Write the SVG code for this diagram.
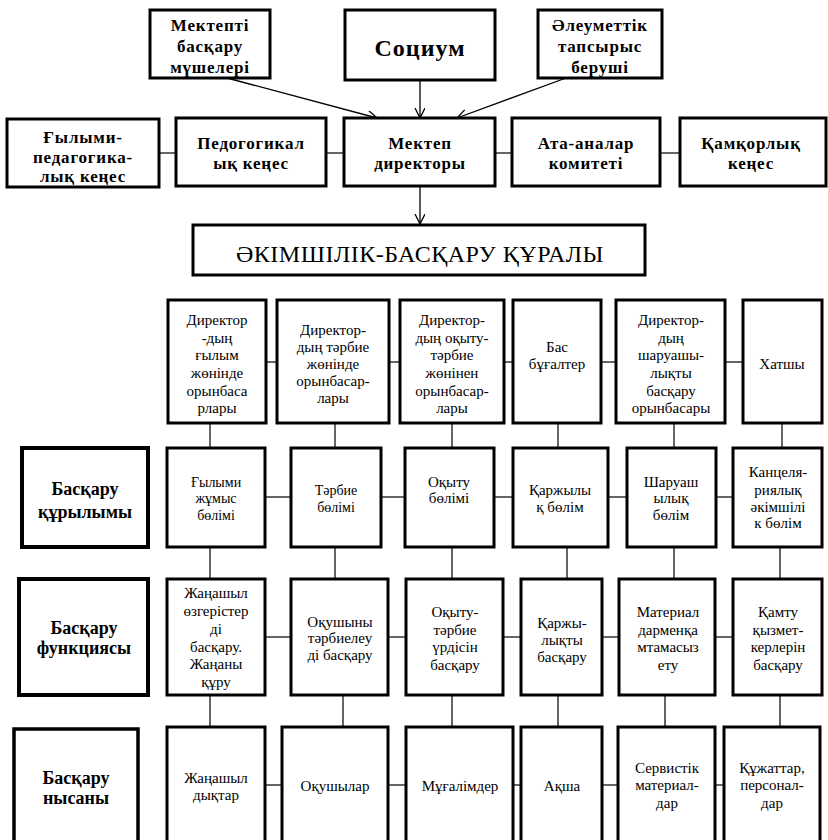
<svg xmlns="http://www.w3.org/2000/svg" width="828" height="840" viewBox="0 0 828 840">
<style>
.bx{fill:#fff;stroke:#000;stroke-width:3}
.lb{fill:#fff;stroke:#000;stroke-width:4}
text{font-family:"Liberation Serif","Tinos","Times New Roman","DejaVu Serif",serif;text-anchor:middle;fill:#000}
.b{font-weight:bold;font-size:17px;letter-spacing:0.8px}
.s{font-weight:bold;font-size:24px;letter-spacing:1px}
.t{font-size:24px;letter-spacing:0.5px}
.h{font-weight:bold;font-size:18px}
.r{font-size:15px}
.m{font-size:14px}
.c line{stroke:#555;stroke-width:1.8}
.a line{stroke:#000;stroke-width:1.3;marker-end:url(#ah)}
</style>
<defs>
<marker id="ah" markerWidth="12" markerHeight="12" refX="10" refY="5" orient="auto" markerUnits="userSpaceOnUse">
<path d="M0,0 L10,5 L0,10" fill="none" stroke="#000" stroke-width="1.3"/>
</marker>
</defs>

<g id="connectors">
<g class="a">
<line x1="227" y1="78" x2="377" y2="118"/>
<line x1="420" y1="80" x2="420" y2="118"/>
<line x1="566" y1="78" x2="457" y2="118"/>
<line x1="420" y1="186" x2="420" y2="224"/>
</g>
<g class="c">
<line x1="159" y1="153" x2="176" y2="153"/>
<line x1="326" y1="153" x2="344" y2="153"/>
<line x1="495" y1="153" x2="512" y2="153"/>
<line x1="660" y1="153" x2="680" y2="153"/>
<line x1="266" y1="362" x2="277" y2="362"/>
<line x1="389" y1="362" x2="400" y2="362"/>
<line x1="504" y1="362" x2="513" y2="362"/>
<line x1="601" y1="362" x2="616" y2="362"/>
<line x1="725" y1="362" x2="743" y2="362"/>
<line x1="210" y1="423" x2="210" y2="448"/>
<line x1="335" y1="423" x2="335" y2="448"/>
<line x1="452" y1="423" x2="452" y2="448"/>
<line x1="558" y1="423" x2="558" y2="448"/>
<line x1="674" y1="423" x2="674" y2="448"/>
<line x1="782" y1="423" x2="782" y2="448"/>
<line x1="265" y1="497" x2="291" y2="497"/>
<line x1="381" y1="497" x2="405" y2="497"/>
<line x1="494" y1="497" x2="513" y2="497"/>
<line x1="608" y1="497" x2="627" y2="497"/>
<line x1="716" y1="497" x2="733" y2="497"/>
<line x1="210" y1="547" x2="210" y2="579"/>
<line x1="335" y1="547" x2="335" y2="579"/>
<line x1="452" y1="547" x2="452" y2="579"/>
<line x1="567" y1="547" x2="567" y2="579"/>
<line x1="674" y1="547" x2="674" y2="579"/>
<line x1="780" y1="547" x2="780" y2="579"/>
<line x1="265" y1="637" x2="291" y2="637"/>
<line x1="388" y1="637" x2="406" y2="637"/>
<line x1="503" y1="637" x2="521" y2="637"/>
<line x1="602" y1="637" x2="619" y2="637"/>
<line x1="715" y1="637" x2="733" y2="637"/>
<line x1="210" y1="695" x2="210" y2="727"/>
<line x1="343" y1="695" x2="343" y2="727"/>
<line x1="452" y1="695" x2="452" y2="727"/>
<line x1="558" y1="695" x2="558" y2="727"/>
<line x1="665" y1="695" x2="665" y2="727"/>
<line x1="780" y1="695" x2="780" y2="727"/>
<line x1="265" y1="785" x2="282" y2="785"/>
<line x1="388" y1="785" x2="406" y2="785"/>
<line x1="513" y1="785" x2="521" y2="785"/>
<line x1="602" y1="785" x2="618" y2="785"/>
<line x1="715" y1="785" x2="724" y2="785"/>
</g>
</g>

<g id="n-mushe"><rect class="bx" x="150" y="10" width="120" height="68"/>
<text class="b" x="210" y="31">Мектепті</text><text class="b" x="210" y="52">басқару</text><text class="b" x="210" y="73">мүшелері</text></g>
<g id="n-socium"><rect class="bx" x="345" y="10" width="150" height="70"/>
<text class="s" x="420" y="56">Социум</text></g>
<g id="n-tapsyrys"><rect class="bx" x="538" y="10" width="124" height="68"/>
<text class="b" x="600" y="31">Әлеуметтік</text><text class="b" x="600" y="52">тапсырыс</text><text class="b" x="600" y="73">беруші</text></g>

<g id="n-gylymi"><rect class="bx" x="7" y="119" width="152" height="68"/>
<text class="b" x="83" y="143">Ғылыми-</text><text class="b" x="83" y="163">педагогика-</text><text class="b" x="83" y="182">лық кеңес</text></g>
<g id="n-pedkenes"><rect class="bx" x="176" y="118" width="150" height="68"/>
<text class="b" x="251" y="149">Педогогикал</text><text class="b" x="251" y="169">ық кеңес</text></g>
<g id="n-director"><rect class="bx" x="344" y="118" width="151" height="68"/>
<text class="b" x="420" y="149">Мектеп</text><text class="b" x="420" y="169">директоры</text></g>
<g id="n-ataana"><rect class="bx" x="512" y="118" width="148" height="68"/>
<text class="b" x="586" y="149">Ата-аналар</text><text class="b" x="586" y="169">комитеті</text></g>
<g id="n-kamkor"><rect class="bx" x="680" y="118" width="146" height="68"/>
<text class="b" x="751" y="149">Қамқорлық</text><text class="b" x="751" y="169">кеңес</text></g>

<g id="n-akimshilik"><rect class="bx" x="193" y="225" width="452" height="50"/>
<text class="t" x="420" y="262">ӘКІМШІЛІК-БАСҚАРУ ҚҰРАЛЫ</text></g>

<g id="n-d1"><rect class="bx" x="168" y="300" width="98" height="123"/>
<text class="r" x="217" y="325">Директор</text><text class="r" x="217" y="342.6">-дың</text><text class="r" x="217" y="360">ғылым</text><text class="r" x="217" y="378">жөнінде</text><text class="r" x="217" y="395.5">орынбаса</text><text class="r" x="217" y="413">рлары</text></g>
<g id="n-d2"><rect class="bx" x="277" y="300" width="112" height="123"/>
<text class="r" x="333" y="335">Директор-</text><text class="r" x="333" y="352">дың тәрбие</text><text class="r" x="333" y="369">жөнінде</text><text class="r" x="333" y="386">орынбасар-</text><text class="r" x="333" y="403">лары</text></g>
<g id="n-d3"><rect class="bx" x="400" y="300" width="104" height="123"/>
<text class="r" x="452" y="325">Директор-</text><text class="r" x="452" y="342.6">дың оқыту-</text><text class="r" x="452" y="360">тәрбие</text><text class="r" x="452" y="378">жөнінен</text><text class="r" x="452" y="395.5">орынбасар-</text><text class="r" x="452" y="413">лары</text></g>
<g id="n-d4"><rect class="bx" x="513" y="300" width="88" height="123"/>
<text class="r" x="557" y="352">Бас</text><text class="r" x="557" y="369">бұғалтер</text></g>
<g id="n-d5"><rect class="bx" x="616" y="300" width="109" height="123"/>
<text class="r" x="671" y="325">Директор-</text><text class="r" x="671" y="342.6">дың</text><text class="r" x="671" y="360">шаруашы-</text><text class="r" x="671" y="378">лықты</text><text class="r" x="671" y="395.5">басқару</text><text class="r" x="671" y="413">орынбасары</text></g>
<g id="n-d6"><rect class="bx" x="743" y="300" width="79" height="123"/>
<text class="r" x="782" y="369">Хатшы</text></g>

<g id="n-label-kurylym"><rect class="lb" x="22" y="448" width="126" height="99"/>
<text class="h" x="85" y="495">Басқару</text><text class="h" x="85" y="518">құрылымы</text></g>
<g id="n-k1"><rect class="bx" x="167" y="448" width="98" height="99"/>
<text class="m" x="216" y="487">Ғылыми</text><text class="m" x="216" y="503">жұмыс</text><text class="m" x="216" y="520">бөлімі</text></g>
<g id="n-k2"><rect class="bx" x="291" y="448" width="90" height="99"/>
<text class="m" x="336" y="495">Тәрбие</text><text class="m" x="336" y="512">бөлімі</text></g>
<g id="n-k3"><rect class="bx" x="405" y="448" width="89" height="99"/>
<text class="r" x="449" y="487">Оқыту</text><text class="r" x="449" y="503">бөлімі</text></g>
<g id="n-k4"><rect class="bx" x="513" y="448" width="95" height="99"/>
<text class="r" x="560" y="495">Қаржылы</text><text class="r" x="560" y="512">қ бөлім</text></g>
<g id="n-k5"><rect class="bx" x="627" y="448" width="89" height="99"/>
<text class="r" x="671" y="487">Шаруаш</text><text class="r" x="671" y="503">ылық</text><text class="r" x="671" y="520">бөлім</text></g>
<g id="n-k6"><rect class="bx" x="733" y="448" width="89" height="99"/>
<text class="r" x="778" y="477">Канцеля-</text><text class="r" x="778" y="495">риялық</text><text class="r" x="778" y="512">әкімшілі</text><text class="r" x="778" y="528">к бөлім</text></g>

<g id="n-label-funk"><rect class="lb" x="19" y="579" width="129" height="116"/>
<text class="h" x="84" y="634">Басқару</text><text class="h" x="84" y="654">функциясы</text></g>
<g id="n-f1"><rect class="bx" x="167" y="579" width="98" height="116"/>
<text class="r" x="216" y="598">Жаңашыл</text><text class="r" x="216" y="616">өзгерістер</text><text class="r" x="216" y="634">ді</text><text class="r" x="216" y="652">басқару.</text><text class="r" x="216" y="669">Жаңаны</text><text class="r" x="216" y="687">құру</text></g>
<g id="n-f2"><rect class="bx" x="291" y="579" width="97" height="116"/>
<text class="r" x="340" y="627">Оқушыны</text><text class="r" x="340" y="643">тәрбиелеу</text><text class="r" x="340" y="660">ді басқару</text></g>
<g id="n-f3"><rect class="bx" x="406" y="579" width="97" height="116"/>
<text class="r" x="455" y="617">Оқыту-</text><text class="r" x="455" y="635">тәрбие</text><text class="r" x="455" y="652">үрдісін</text><text class="r" x="455" y="670">басқару</text></g>
<g id="n-f4"><rect class="bx" x="521" y="579" width="81" height="116"/>
<text class="r" x="562" y="628">Қаржы-</text><text class="r" x="562" y="645">лықты</text><text class="r" x="562" y="662">басқару</text></g>
<g id="n-f5"><rect class="bx" x="619" y="579" width="96" height="116"/>
<text class="r" x="668" y="617">Материал</text><text class="r" x="668" y="635">дарменқа</text><text class="r" x="668" y="652">мтамасыз</text><text class="r" x="668" y="670">ету</text></g>
<g id="n-f6"><rect class="bx" x="733" y="579" width="89" height="116"/>
<text class="r" x="778" y="617">Қамту</text><text class="r" x="778" y="635">қызмет-</text><text class="r" x="778" y="652">керлерін</text><text class="r" x="778" y="670">басқару</text></g>

<g id="n-label-nysan"><rect class="bx" x="14" y="729" width="124" height="130" style="stroke-width:3.5"/>
<text class="h" x="76" y="784">Басқару</text><text class="h" x="76" y="804">нысаны</text></g>
<g id="n-o1"><rect class="bx" x="167" y="727" width="98" height="130"/>
<text class="r" x="216" y="783">Жаңашыл</text><text class="r" x="216" y="800">дықтар</text></g>
<g id="n-o2"><rect class="bx" x="282" y="727" width="106" height="130"/>
<text class="r" x="335" y="791">Оқушылар</text></g>
<g id="n-o3"><rect class="bx" x="406" y="727" width="107" height="130"/>
<text class="r" x="460" y="791">Мұғалімдер</text></g>
<g id="n-o4"><rect class="bx" x="521" y="727" width="81" height="130"/>
<text class="r" x="562" y="791">Ақша</text></g>
<g id="n-o5"><rect class="bx" x="618" y="727" width="97" height="130"/>
<text class="r" x="667" y="773">Сервистік</text><text class="r" x="667" y="790">материал-</text><text class="r" x="667" y="808">дар</text></g>
<g id="n-o6"><rect class="bx" x="724" y="727" width="96" height="130"/>
<text class="r" x="772" y="773">Құжаттар,</text><text class="r" x="772" y="790">персонал-</text><text class="r" x="772" y="808">дар</text></g>
</svg>
